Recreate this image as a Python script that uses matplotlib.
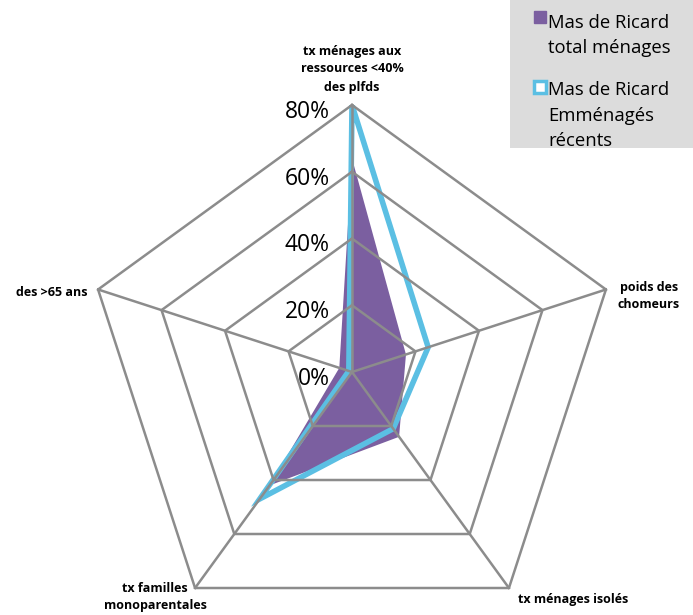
import numpy as np
import matplotlib
matplotlib.use("Agg")
import matplotlib.pyplot as plt
from matplotlib.lines import Line2D
from matplotlib.patches import Rectangle

# axes (clockwise from top)
categories = ["tx ménages aux\nressources <40%\ndes plfds", "poids des\nchomeurs",
              "tx ménages isolés", "tx familles\nmonoparentales", "des >65 ans"]
total_menages = [0.64, 0.17, 0.24, 0.42, 0.04]
emmenages_recents = [0.80, 0.24, 0.21, 0.47, 0.01]
rings = [0.2, 0.4, 0.6, 0.8]
ring_labels = ["20%", "40%", "60%", "80%"]
series_names = ["Mas de Ricard\ntotal ménages", "Mas de Ricard\nEmménagés\nrécents"]

purple = "#7b5fa0"
blue = "#5bbfe3"
grey = "#8c8c8c"
font = "Open Sans"

fig = plt.figure(figsize=(6.93, 6.15), dpi=100)
cx, cy, rad = 352 / 693, 1 - 372 / 615, 267
ax = fig.add_axes([cx - rad / 693, cy - rad / 615, 2 * rad / 693, 2 * rad / 615], projection="polar")
ax.set_theta_offset(np.pi / 2)
ax.set_theta_direction(-1)
ax.set_ylim(0, 0.8)
ax.axis("off")

n = len(categories)
theta = np.arange(n) * 2 * np.pi / n
theta_c = np.append(theta, theta[0])

# series
ax.fill(theta_c, total_menages + total_menages[:1], color=purple, zorder=2, lw=0)
ax.plot(theta_c, emmenages_recents + emmenages_recents[:1], color=blue, lw=4, zorder=3,
        solid_joinstyle="miter")

# pentagon grid
for r in rings:
    ax.plot(theta_c, [r] * (n + 1), color=grey, lw=1.8, zorder=4, clip_on=False)
for t in theta:
    ax.plot([t, t], [0, 0.8], color=grey, lw=1.8, zorder=4, clip_on=False)

# radial tick labels
for r, lab in zip([0.0] + rings, ["0%"] + ring_labels):
    ax.annotate(lab, xy=(0, r), xytext=(-16, -5), textcoords="offset points",
                ha="right", va="center", fontsize=16.5, family=font, color="black")

# category labels
label_pos = [(352, 69), (649, 296), (573, 600), (155, 597), (88, 292)]
label_ha = ["center", "center", "center", "center", "right"]
for lab, (px, py), ha in zip(categories, label_pos, label_ha):
    fig.text(px / 693, 1 - py / 615, lab, ha=ha, va="center", fontsize=9, family=font,
             fontweight="bold", linespacing=1.5)

# legend box
fig.add_artist(Rectangle((510 / 693, 1 - 148 / 615), 183 / 693, 148 / 615,
                         transform=fig.transFigure, facecolor="#dcdcdc", edgecolor="none"))
fig.add_artist(Line2D([540 / 693], [1 - 17 / 615], transform=fig.transFigure, marker="s",
                      markersize=8, color=purple, markeredgecolor=purple, linestyle="none"))
fig.add_artist(Line2D([540 / 693], [1 - 87 / 615], transform=fig.transFigure, marker="s",
                      markersize=8, markerfacecolor="white", markeredgecolor=blue,
                      markeredgewidth=2.5, linestyle="none"))
fig.text(548 / 693, 1 - 14 / 615, series_names[0], ha="left", va="top", fontsize=13.3,
         family=font, linespacing=1.5)
fig.text(548 / 693, 1 - 81 / 615, series_names[1], ha="left", va="top", fontsize=13.3,
         family=font, linespacing=1.55)

fig.savefig("out.png", dpi=100)
